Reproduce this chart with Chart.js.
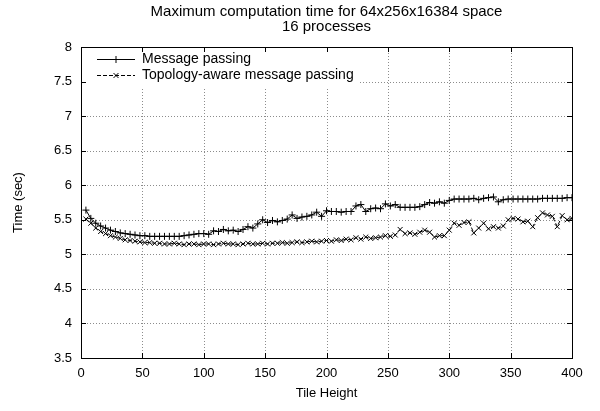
<!DOCTYPE html>
<html>
<head>
<meta charset="UTF-8">
<title>Maximum computation time</title>
<script src="https://cdn.jsdelivr.net/npm/chart.js"></script>
<style>
  html, body { margin: 0; padding: 0; background: #fff; }
  #wrap { width: 600px; height: 411px; }
</style>
</head>
<body>
<div id="wrap"><canvas id="chart" width="600" height="411"></canvas></div>
<script>
// Data
const titleLines = ['Maximum computation time for 64x256x16384 space', '16 processes'];
const seriesNames = ['Message passing', 'Topology-aware message passing'];

const tileHeights = [
  4, 8, 12, 16, 20, 24, 28, 32, 36, 40,
  44, 48, 52, 56, 60, 64, 68, 72, 76, 80,
  84, 88, 92, 96, 100, 104, 108, 112, 116, 120,
  124, 128, 132, 136, 140, 144, 148, 152, 156, 160,
  164, 168, 172, 176, 180, 184, 188, 192, 196, 200,
  204, 208, 212, 216, 220, 224, 228, 232, 236, 240,
  244, 248, 252, 256, 260, 264, 268, 272, 276, 280,
  284, 288, 292, 296, 300, 304, 308, 312, 316, 320,
  324, 328, 332, 336, 340, 344, 348, 352, 356, 360,
  364, 368, 372, 376, 380, 384, 388, 392, 396, 400
];

const mpTimes = [
  5.64, 5.52, 5.45, 5.41, 5.38, 5.35, 5.33, 5.31, 5.30, 5.29,
  5.28, 5.27, 5.27, 5.26, 5.26, 5.26, 5.26, 5.26, 5.26, 5.26,
  5.27, 5.28, 5.29, 5.30, 5.30, 5.29, 5.34, 5.33, 5.36, 5.34,
  5.35, 5.33, 5.36, 5.40, 5.38, 5.44, 5.50, 5.46, 5.49, 5.47,
  5.49, 5.51, 5.57, 5.52, 5.54, 5.55, 5.57, 5.61, 5.55, 5.63,
  5.62, 5.62, 5.61, 5.62, 5.62, 5.70, 5.72, 5.62, 5.66, 5.67,
  5.66, 5.73, 5.70, 5.72, 5.68, 5.68, 5.68, 5.68, 5.69, 5.72,
  5.75, 5.74, 5.76, 5.74, 5.78, 5.80, 5.80, 5.80, 5.80, 5.81,
  5.79, 5.81, 5.82, 5.83, 5.76, 5.79, 5.80, 5.80, 5.80, 5.80,
  5.80, 5.80, 5.80, 5.81, 5.81, 5.81, 5.81, 5.81, 5.82, 5.82
];

const topoTimes = [
  5.51, 5.45, 5.38, 5.33, 5.30, 5.27, 5.25, 5.23, 5.21, 5.20,
  5.19, 5.18, 5.17, 5.17, 5.16, 5.16, 5.15, 5.15, 5.16, 5.15,
  5.14, 5.15, 5.15, 5.14, 5.15, 5.15, 5.14, 5.15, 5.16, 5.15,
  5.15, 5.14, 5.15, 5.16, 5.15, 5.15, 5.16, 5.15, 5.16, 5.16,
  5.17, 5.16, 5.17, 5.18, 5.17, 5.18, 5.19, 5.18, 5.19, 5.20,
  5.19, 5.21, 5.20, 5.22, 5.21, 5.24, 5.22, 5.25, 5.23, 5.24,
  5.25, 5.27, 5.26, 5.28, 5.36, 5.30, 5.31, 5.29, 5.32, 5.35,
  5.32, 5.25, 5.27, 5.27, 5.35, 5.45, 5.42, 5.46, 5.47, 5.31,
  5.38, 5.45, 5.37, 5.40, 5.38, 5.41, 5.50, 5.52, 5.51, 5.47,
  5.48, 5.40, 5.53, 5.60, 5.57, 5.55, 5.40, 5.56, 5.50, 5.52
];

const xTickValues = [0, 50, 100, 150, 200, 250, 300, 350, 400];
const yTickValues = [3.5, 4, 4.5, 5, 5.5, 6, 6.5, 7, 7.5, 8];

const FONT = "'Liberation Sans', Arial, Helvetica, sans-serif";

// gnuplot-like frame: dotted grid, key box, inward ticks, border, title
const gnuplotFrame = {
  id: 'gnuplotFrame',
  beforeDatasetsDraw(chart) {
    const { ctx, chartArea: a, scales: { x, y } } = chart;
    ctx.save();
    ctx.strokeStyle = '#8c8c8c';
    ctx.lineWidth = 1;
    ctx.setLineDash([1, 2]);
    ctx.beginPath();
    xTickValues.forEach(v => {
      if (v <= x.min || v >= x.max) return;
      const px = Math.round(x.getPixelForValue(v)) + 0.5;
      ctx.moveTo(px, a.top);
      ctx.lineTo(px, a.bottom);
    });
    yTickValues.forEach(v => {
      if (v <= y.min || v >= y.max) return;
      const py = Math.round(y.getPixelForValue(v)) + 0.5;
      ctx.moveTo(a.left, py);
      ctx.lineTo(a.right, py);
    });
    ctx.stroke();
    ctx.setLineDash([]);
    // key area is opaque
    ctx.fillStyle = '#fff';
    ctx.fillRect(a.left + 1, a.top + 1, 276, 39);
    ctx.restore();
  },
  afterDatasetsDraw(chart) {
    const { ctx, chartArea: a, scales: { x, y } } = chart;
    ctx.save();
    ctx.strokeStyle = '#000';
    ctx.lineWidth = 1;

    // ticks, mirrored on all four sides
    const tl = 5;
    ctx.beginPath();
    xTickValues.forEach(v => {
      const px = Math.round(x.getPixelForValue(v)) + 0.5;
      ctx.moveTo(px, a.bottom); ctx.lineTo(px, a.bottom - tl);
      ctx.moveTo(px, a.top); ctx.lineTo(px, a.top + tl);
    });
    yTickValues.forEach(v => {
      const py = Math.round(y.getPixelForValue(v)) + 0.5;
      ctx.moveTo(a.left, py); ctx.lineTo(a.left + tl, py);
      ctx.moveTo(a.right, py); ctx.lineTo(a.right - tl, py);
    });
    ctx.stroke();

    // border
    ctx.strokeRect(Math.round(a.left) + 0.5, Math.round(a.top) + 0.5,
      Math.round(a.right - a.left), Math.round(a.bottom - a.top));

    // key
    const keyRows = [
      { y: a.top + 12, dash: [], style: 'cross' },
      { y: a.top + 28, dash: [4, 2], style: 'crossRot' }
    ];
    ctx.font = '14px ' + FONT;
    ctx.fillStyle = '#000';
    ctx.textBaseline = 'middle';
    ctx.textAlign = 'left';
    keyRows.forEach((r, i) => {
      ctx.setLineDash(r.dash);
      ctx.beginPath();
      ctx.moveTo(a.left + 16, Math.round(r.y) + 0.5);
      ctx.lineTo(a.left + 54, Math.round(r.y) + 0.5);
      ctx.stroke();
      ctx.setLineDash([]);
      Chart.helpers.drawPoint(ctx, { pointStyle: r.style, radius: 3.5, borderWidth: 1 },
        a.left + 35, Math.round(r.y) + 0.5);
      ctx.fillText(seriesNames[i], a.left + 61, r.y);
    });

    // title
    ctx.font = '15px ' + FONT;
    ctx.textAlign = 'center';
    const cx = (a.left + a.right) / 2;
    ctx.fillText(titleLines[0], cx, 12);
    ctx.fillText(titleLines[1], cx, 27);
    ctx.restore();
  }
};

const toPoints = vals => tileHeights.map((h, i) => ({ x: h, y: vals[i] }));

new Chart(document.getElementById('chart'), {
  type: 'line',
  data: {
    datasets: [
      {
        label: seriesNames[0],
        data: toPoints(mpTimes),
        borderColor: '#000',
        backgroundColor: '#000',
        borderWidth: 1,
        pointStyle: 'cross',
        pointRadius: 3.5,
        pointBorderWidth: 1,
        pointBorderColor: '#000',
        tension: 0
      },
      {
        label: seriesNames[1],
        data: toPoints(topoTimes),
        borderColor: '#000',
        backgroundColor: '#000',
        borderWidth: 1,
        borderDash: [4, 2],
        pointStyle: 'crossRot',
        pointRadius: 3.5,
        pointBorderWidth: 1,
        pointBorderColor: '#000',
        tension: 0
      }
    ]
  },
  options: {
    responsive: false,
    animation: false,
    events: [],
    layout: { padding: { left: 0, right: 28, top: 47, bottom: 0 } },
    plugins: {
      legend: { display: false },
      title: { display: false },
      tooltip: { enabled: false }
    },
    scales: {
      x: {
        type: 'linear',
        min: 0,
        max: 400,
        afterFit: s => { s.height = 53; },
        afterBuildTicks: s => { s.ticks = xTickValues.map(v => ({ value: v })); },
        grid: { display: false },
        border: { display: false },
        ticks: { color: '#000', font: { family: FONT, size: 13 }, padding: 0, maxRotation: 0, callback: v => String(v) },
        title: { display: true, text: 'Tile Height', color: '#000', font: { family: FONT, size: 13 }, padding: { top: 0, bottom: 10 } }
      },
      y: {
        type: 'linear',
        min: 3.5,
        max: 8,
        afterFit: s => { s.width = 81; },
        afterBuildTicks: s => { s.ticks = yTickValues.map(v => ({ value: v })); },
        grid: { display: false },
        border: { display: false },
        ticks: { color: '#000', font: { family: FONT, size: 13 }, padding: 1, callback: v => String(v) },
        title: { display: true, text: 'Time (sec)', color: '#000', font: { family: FONT, size: 13 }, padding: { top: 11, bottom: 0 } }
      }
    }
  },
  plugins: [gnuplotFrame]
});
</script>
</body>
</html>
